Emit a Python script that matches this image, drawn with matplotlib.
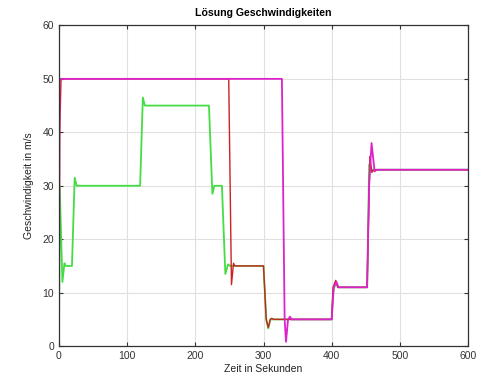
import numpy as np
import matplotlib.pyplot as plt

plt.rcParams['font.family'] = ['Liberation Sans', 'DejaVu Sans']

# green series (time in s, speed in m/s)
t_green = [0, 1, 5, 8, 10, 19, 23, 26, 119, 123, 126, 220, 225, 228, 239, 244, 248, 251,
           300, 304, 307, 310, 400, 402, 406, 409, 452, 455, 458, 600]
v_green = [0, 30, 12, 15.5, 15, 15, 31.5, 30, 30, 46.5, 45, 45, 28.5, 30, 30, 13.5, 15.3, 15,
           15, 5, 3.3, 5, 5, 10, 12, 11, 11, 34, 33, 33]

# red series
t_red = [0, 1, 3, 249, 253, 256, 258, 300, 304, 307, 310, 312, 315, 400, 402, 406, 409,
         452, 456, 459, 462, 600]
v_red = [0, 40, 50, 50, 11.5, 15.5, 15, 15, 5, 3.5, 5, 5.2, 5, 5, 11, 12.3, 11,
         11, 35.5, 32.5, 33, 33]

# magenta series
t_mag = [0, 0.7, 327, 331, 333, 336, 339, 341, 400, 403, 407, 410, 452, 455, 458.5, 463, 466, 600]
v_mag = [0, 50, 50, 5, 0.8, 5, 5.5, 5, 5, 11, 12, 11, 11, 30, 38, 32.7, 33, 33]

fig = plt.figure(figsize=(5, 3.85), dpi=100)
ax = fig.add_axes([0.118, 0.101, 0.818, 0.833])

ax.plot(t_green, v_green, color='#44dd44', lw=1.3)
ax.plot(t_red, v_red, color='#cc2222', lw=1.0)
ax.plot(t_mag, v_mag, color='#dd22cc', lw=1.3)

ax.set_xlim(0, 600)
ax.set_ylim(0, 60)
ax.set_xticks(np.arange(0, 601, 100))
ax.set_yticks(np.arange(0, 61, 10))
ax.grid(True, color='#e0e0e0', lw=0.8)
ax.set_axisbelow(True)
ax.tick_params(direction='in', length=3, labelsize=7.5, colors='#333333',
               top=True, right=True)
for s in ax.spines.values():
    s.set_color('#333333')
    s.set_linewidth(0.9)

ax.set_title('Lösung Geschwindigkeiten', fontsize=7.6, fontweight='bold', pad=7)
ax.set_xlabel('Zeit in Sekunden', fontsize=7.5, color='#222222', labelpad=2)
ax.set_ylabel('Geschwindigkeit in m/s', fontsize=7.5, color='#222222', labelpad=6)

plt.savefig('out.png', dpi=100)
